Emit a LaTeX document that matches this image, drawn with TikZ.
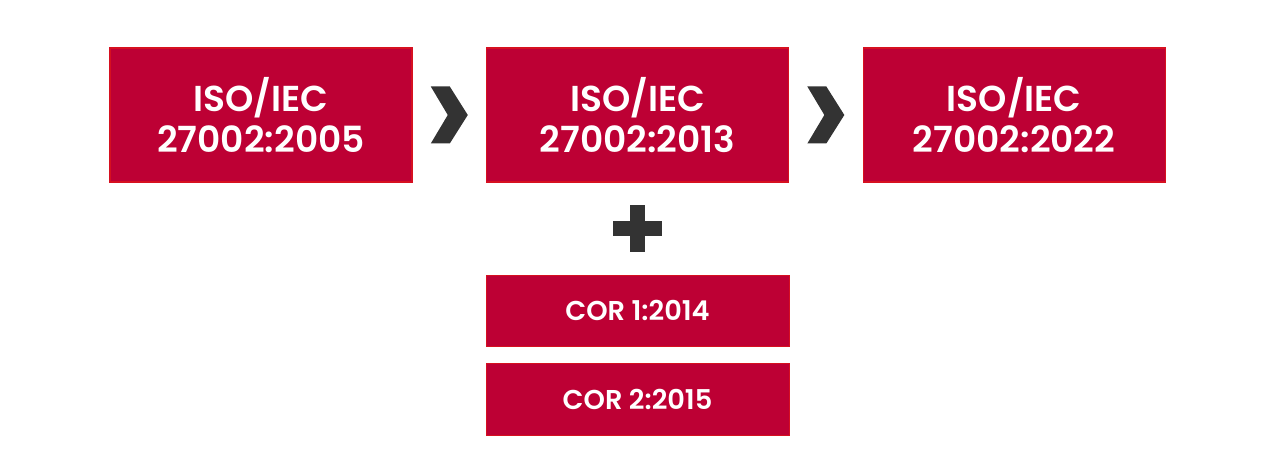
\documentclass[tikz,border=0pt]{standalone}
\usepackage{fontspec}
\setmainfont{Poppins}[BoldFont={Poppins SemiBold}]
\usepackage{xcolor}
\usepackage{tikz}
\usetikzlibrary{positioning}
\definecolor{isored}{RGB}{189, 0, 52}
\definecolor{isoedge}{RGB}{214, 16, 32}
\definecolor{darkmark}{RGB}{51, 51, 51}

\begin{document}
\begin{tikzpicture}[
    node distance=1.47cm,
    verbox/.style={rectangle, draw=isoedge, fill=isored, line width=0.6pt,
                minimum width=6.04cm, minimum height=2.68cm,
                text=white, align=center, font=\fontsize{20.5}{23.5}\selectfont\bfseries},
    corbox/.style={rectangle, draw=isoedge, fill=isored, line width=0.6pt,
                minimum width=6.06cm, minimum height=1.42cm,
                text=white, font=\fontsize{15.5}{17}\selectfont\bfseries},
    glyph/.style={fill=darkmark, draw=none}
]
\useasboundingbox (0,0) rectangle (25.6,-9.42);

\node[verbox] (v2005) at (5.22,-2.30) {ISO/IEC\\27002:2005};
\node[verbox, right=of v2005] (v2013) {ISO/IEC\\27002:2013};
\node[verbox, right=of v2013] (v2022) {ISO/IEC\\27002:2022};

\node[corbox, below=1.84cm of v2013] (cor1) {COR 1:2014};
\node[corbox, below=0.32cm of cor1, minimum height=1.44cm] (cor2) {COR 2:2015};

% chevrons between versions
\path (v2005.east) -- (v2013.west) coordinate[midway] (chevA);
\path (v2013.east) -- (v2022.west) coordinate[midway] (chevB);
\foreach \c in {chevA, chevB}
    \fill[glyph, shift={(\c)}] (-0.37,0.57) -- (0.01,0.57) -- (0.37,0) -- (0.01,-0.57)
        -- (-0.37,-0.57) -- (-0.03,0) -- cycle;

% plus
\path (v2013.south) -- (cor1.north) coordinate[midway] (plus);
\fill[glyph, shift={(plus)}] (-0.15,-0.47) rectangle (0.15,0.47);
\fill[glyph, shift={(plus)}] (-0.49,-0.15) rectangle (0.49,0.15);

\end{tikzpicture}
\end{document}
